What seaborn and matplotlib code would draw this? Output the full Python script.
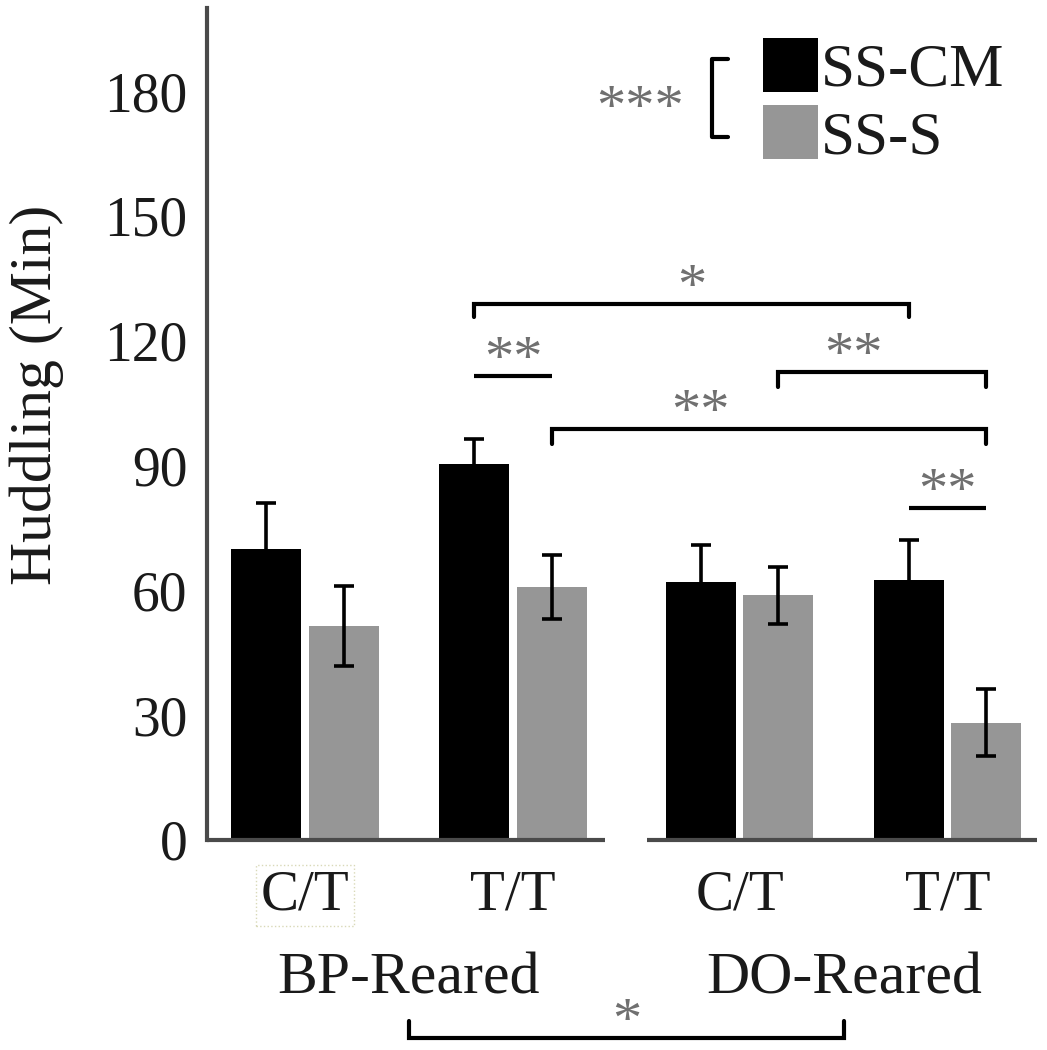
import numpy as np
import pandas as pd
import matplotlib
matplotlib.use("Agg")
import matplotlib.pyplot as plt
from matplotlib.patches import Patch
from matplotlib.lines import Line2D
import seaborn as sns

# ---------------- data ----------------
genotype = ["C/T", "T/T", "C/T", "T/T"]
rearing = ["BP-Reared", "BP-Reared", "DO-Reared", "DO-Reared"]
groups = ["BP-Reared", "DO-Reared"]
conditions = ["SS-CM", "SS-S"]
ss_cm_mean = [70.0, 90.5, 62.0, 62.5]
ss_cm_sem = [11.0, 6.0, 9.0, 9.5]
ss_s_mean = [51.5, 60.8, 58.8, 28.2]
ss_s_sem = [9.6, 7.7, 6.9, 8.0]
y_ticks = [0, 30, 60, 90, 120, 150, 180]
y_label = "Huddling (Min)"

# ---------------- style ----------------
sns.set_style("white")
plt.rcParams["font.family"] = ["Liberation Serif", "DejaVu Serif"]

W, H = 1047, 1050
fig = plt.figure(figsize=(W / 100, H / 100), dpi=100)
ax = fig.add_axes([207 / W, 210 / H, 830 / W, 832 / H])

# positions: extra spacing between rearing groups
group_gap = 0.09
gidx = [groups.index(r) for r in rearing]
positions = [i + group_gap * g for i, g in enumerate(gidx)]

df = pd.DataFrame({
    "pos": positions * 2,
    "cond": [conditions[0]] * 4 + [conditions[1]] * 4,
    "value": ss_cm_mean + ss_s_mean,
})
palette = {"SS-CM": "#000000", "SS-S": "#969696"}
sns.barplot(data=df, x="pos", y="value", hue="cond", hue_order=conditions,
            palette=palette, native_scale=True, width=0.742, gap=0.092,
            errorbar=None, saturation=1, linewidth=0, legend=False, ax=ax)

# error bars on top of the seaborn bars
centers = {}
for cont, cond, errs in zip(ax.containers, conditions, [ss_cm_sem, ss_s_sem]):
    bars = sorted(cont.patches, key=lambda p: p.get_x())
    xs = [b.get_x() + b.get_width() / 2 for b in bars]
    ys = [b.get_height() for b in bars]
    centers[cond] = xs
    ax.errorbar(xs, ys, yerr=errs, fmt="none", ecolor="black",
                elinewidth=2.6, capsize=7.2, capthick=2.6, zorder=4)

# axes styling
ax.set_ylim(0, 200)
ax.set_xlim(positions[0] - 0.471, positions[-1] + 0.429)
ax.set_yticks(y_ticks)
ax.set_yticklabels([str(t) for t in y_ticks], fontsize=40, color="#1a1a1a")
ax.set_xticks(positions)
xt = ax.set_xticklabels(genotype, fontsize=41, color="#1a1a1a")
ax.tick_params(axis="both", length=0)
ax.tick_params(axis="y", pad=14)
ax.tick_params(axis="x", pad=21)
ax.set_xlabel("")
ax.set_ylabel(y_label, fontsize=43, color="#1a1a1a")
ax.yaxis.set_label_coords(-0.172, 0.535)

for s in ["top", "right", "bottom"]:
    ax.spines[s].set_visible(False)
ax.spines["left"].set_color("#4a4a4a")
ax.spines["left"].set_linewidth(3)

# broken x axis line
axis_col = "#4a4a4a"
mid_break = (positions[1] + positions[2]) / 2
ax.plot([positions[0] - 0.471, mid_break - 0.103], [0, 0], color=axis_col,
        lw=3, clip_on=False, zorder=5, solid_capstyle="butt")
ax.plot([mid_break + 0.099, positions[-1] + 0.429], [0, 0], color=axis_col,
        lw=3, clip_on=False, zorder=5, solid_capstyle="butt")

# faint dotted box round first tick label
xt[0].set_bbox(dict(boxstyle="square,pad=0.08", fc="none", ec="#d9d9b8",
                    ls=":", lw=1.0))

# group labels
trans = ax.get_xaxis_transform()
group_centers = [np.mean([p for p, r in zip(positions, rearing) if r == g]) for g in groups]
for gc, g in zip(group_centers, groups):
    ax.text(gc, -0.184, g, transform=trans, ha="center", va="baseline",
            fontsize=43, color="#1a1a1a")

# significance brackets
star_kw = dict(fontsize=42, color="#707070", ha="center", va="baseline")
def bracket(x1, x2, y, drop, label, frac=0.5, up=False):
    lw = 3
    if drop:
        yy = y + drop if up else y - drop
        ax.plot([x1, x1, x2, x2], [yy, y, y, yy], color="black", lw=lw,
                clip_on=False, solid_joinstyle="miter")
    else:
        ax.plot([x1, x2], [y, y], color="black", lw=lw, clip_on=False,
                solid_capstyle="butt")
    ax.text(x1 + frac * (x2 - x1), y + 0.2, label, clip_on=False, **star_kw)

cm, ss = centers["SS-CM"], centers["SS-S"]
bracket(cm[1], cm[3], 128.9, 3.2, "*")
bracket(cm[1], ss[1], 111.6, 0, "**")
bracket(ss[2], ss[3], 112.5, 3.5, "**", frac=0.36)
bracket(ss[1], ss[3], 98.9, 3.7, "**", frac=0.343)
bracket(cm[3], ss[3], 79.9, 0, "**")
bracket(group_centers[0], group_centers[1], -47.5, 4.0, "*", up=True)

# legend
handles = [Patch(facecolor=palette[c], edgecolor="none") for c in conditions]
leg = fig.legend(handles, conditions, loc="upper left",
                 bbox_to_anchor=(763 / W, 1 - 38 / H), frameon=False,
                 fontsize=44, handlelength=0.9, handleheight=0.983,
                 handletextpad=0.05, labelspacing=0.105, borderpad=0,
                 borderaxespad=0)
for t in leg.get_texts():
    t.set_color("#1a1a1a")

# main-effect marker beside the legend
fig.text(640 / W, 1 - 110 / H, "***", fontsize=42, color="#707070",
         ha="center", va="center")
fig.add_artist(Line2D([728 / W, 712 / W, 712 / W, 728 / W],
                      [1 - 59 / H, 1 - 59 / H, 1 - 137 / H, 1 - 137 / H],
                      color="black", lw=3))

fig.savefig("out.png", dpi=100)
